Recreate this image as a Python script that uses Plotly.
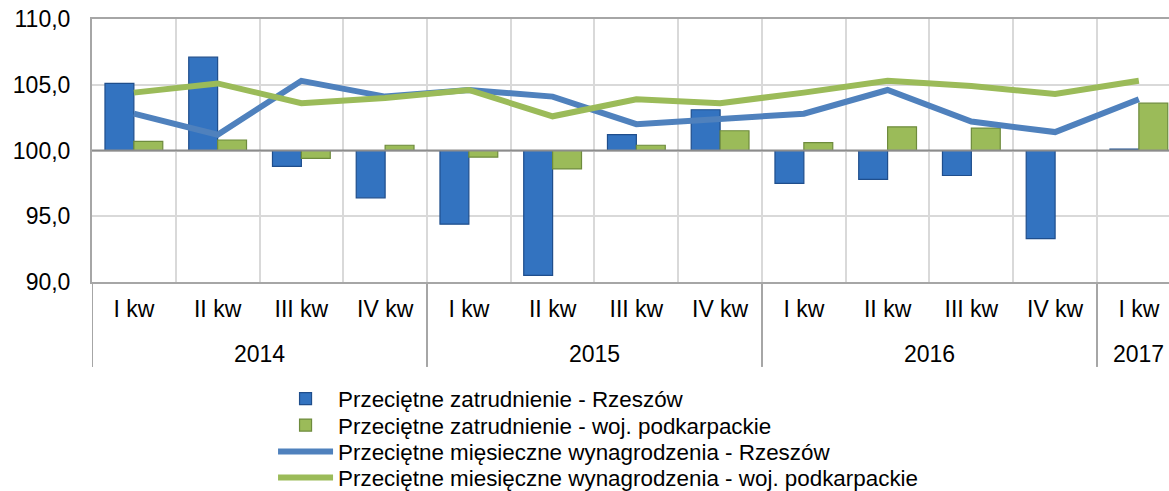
import plotly.graph_objects as go

years = ["2014", "2015", "2016", "2017"]
year_counts = [4, 4, 4, 1]
quarters = ["I kw", "II kw", "III kw", "IV kw"] * 3 + ["I kw"]

emp_rzeszow = [105.1, 107.1, 98.8, 96.4, 94.4, 90.5, 101.2, 103.1, 97.5, 97.8, 98.1, 93.3, 100.1]
emp_podk = [100.7, 100.8, 99.4, 100.4, 99.5, 98.6, 100.4, 101.5, 100.6, 101.8, 101.7, 100.0, 103.6]
wage_rzeszow = [102.8, 101.2, 105.3, 104.1, 104.6, 104.1, 102.0, 102.4, 102.8, 104.6, 102.2, 101.4, 103.9]
wage_podk = [104.4, 105.1, 103.6, 104.0, 104.6, 102.6, 103.9, 103.6, 104.4, 105.3, 104.9, 104.3, 105.3]

names = [
    "Przeciętne zatrudnienie - Rzeszów",
    "Przeciętne zatrudnienie - woj. podkarpackie",
    "Przeciętne mięsieczne wynagrodzenia - Rzeszów",
    "Przeciętne miesięczne wynagrodzenia - woj. podkarpackie",
]

BASE = 100.0
FONT = "Liberation Sans"
pos = list(range(len(quarters)))
boundaries = [p - 0.5 for p in pos] + [pos[-1] + 0.5]

fig = go.Figure()
fig.add_trace(go.Bar(
    x=pos, y=[v - BASE for v in emp_rzeszow], base=BASE, name=names[0], legend="legend",
    marker=dict(color="#3373C0", line=dict(color="#1F4E8C", width=1.2)),
))
fig.add_trace(go.Bar(
    x=pos, y=[v - BASE for v in emp_podk], base=BASE, name=names[1], legend="legend2",
    marker=dict(color="#9BBB59", line=dict(color="#6E8B3D", width=1.2)),
))
fig.add_trace(go.Scatter(
    x=pos, y=wage_rzeszow, name=names[2], mode="lines", legend="legend3",
    line=dict(color="#4F81BD", width=6),
))
fig.add_trace(go.Scatter(
    x=pos, y=wage_podk, name=names[3], mode="lines", legend="legend4",
    line=dict(color="#9BBB59", width=6),
))

fig.add_hline(y=BASE, line=dict(color="#8C8C8C", width=2))

# year labels and group dividers below the axis
start = 0
group_edges = [-0.5]
for yr, n in zip(years, year_counts):
    fig.add_annotation(
        x=start + (n - 1) / 2, y=-0.274, xref="x", yref="paper",
        text=yr, showarrow=False, yanchor="middle",
        font=dict(family=FONT, size=23, color="#000000"),
    )
    start += n
    group_edges.append(start - 0.5)
for gx in group_edges:
    fig.add_shape(
        type="line", x0=gx, x1=gx, y0=0, y1=-0.323, xref="x", yref="paper",
        line=dict(color="#A6A6A6", width=2),
    )

legend_style = dict(
    x=0.1681, xanchor="left", yanchor="middle",
    font=dict(family=FONT, size=22.4, color="#000000"),
    bgcolor="rgba(0,0,0,0)", itemwidth=55,
)

fig.update_layout(
    width=1169, height=491,
    margin=dict(l=92, r=0, t=19, b=209, autoexpand=False),
    paper_bgcolor="white", plot_bgcolor="white",
    separators=", ",
    barmode="group", bargap=0.31, bargroupgap=0,
    font=dict(family=FONT, size=23, color="#000000"),
    showlegend=True,
    legend=dict(y=-0.4449, **legend_style),
    legend2=dict(y=-0.5456, **legend_style),
    legend3=dict(y=-0.6464, **legend_style),
    legend4=dict(y=-0.7452, **legend_style),
    xaxis=dict(
        range=[-0.5, 12.36], tickmode="array", tickvals=pos, ticktext=quarters,
        showgrid=False, ticks="", ticklabelstandoff=5, ticklabeloverflow="allow",
        minor=dict(tickvals=boundaries, showgrid=True, gridcolor="#D9D9D9", gridwidth=1.5, ticks=""),
        showline=True, linecolor="#A6A6A6", linewidth=2, mirror=True,
        zeroline=False,
        tickfont=dict(family=FONT, size=23),
    ),
    yaxis=dict(
        range=[90, 110], dtick=5, tickformat=".1f",
        showgrid=True, gridcolor="#D9D9D9", gridwidth=1.5,
        showline=True, linecolor="#A6A6A6", linewidth=2,
        zeroline=False, ticks="", ticklabelstandoff=15, ticklabeloverflow="allow",
        tickfont=dict(family=FONT, size=23),
    ),
)

fig.write_html(
    "out.html",
    config={"displayModeBar": False},
    post_script="document.body.style.margin='0';document.body.style.overflow='hidden';",
)
